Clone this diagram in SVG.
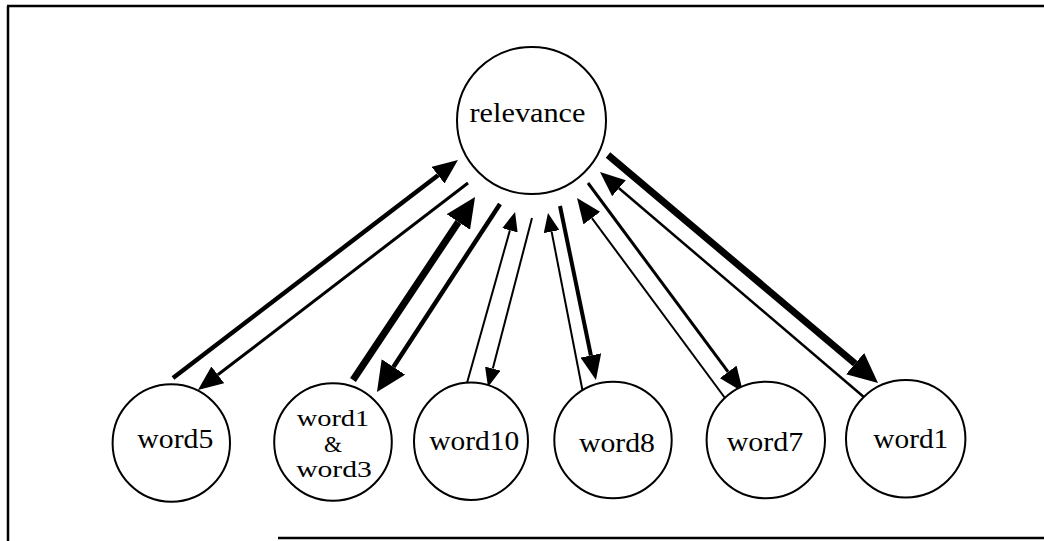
<svg xmlns="http://www.w3.org/2000/svg" width="1044" height="541" viewBox="0 0 1044 541">
  <style>
    .node { fill: #fff; stroke: #000; stroke-width: 2; }
    .label { font-family: "Liberation Serif", "Times New Roman", serif; font-size: 27px; fill: #000; text-anchor: middle; }
    .stack { font-size: 23px; }
    .edge { stroke: #000; fill: none; stroke-linecap: butt; }
    .frame { stroke: #000; stroke-width: 2.5; fill: none; }
  </style>
  <defs>
    <marker id="head-big" markerUnits="userSpaceOnUse" markerWidth="30" markerHeight="28" refX="0" refY="14" orient="auto">
      <path d="M0,0 L30,14 L0,28 Z" fill="#000"/>
    </marker>
    <marker id="head-mid" markerUnits="userSpaceOnUse" markerWidth="25" markerHeight="21" refX="0" refY="10.5" orient="auto">
      <path d="M0,0 L25,10.5 L0,21 Z" fill="#000"/>
    </marker>
    <marker id="head-small" markerUnits="userSpaceOnUse" markerWidth="19" markerHeight="16" refX="0" refY="8" orient="auto">
      <path d="M0,0 L19,8 L0,16 Z" fill="#000"/>
    </marker>
  </defs>

  <rect width="1044" height="541" fill="#fff"/>

  <!-- page frame (open on the right) -->
  <g id="frame">
    <line class="frame" x1="7" y1="6" x2="1044" y2="6"/>
    <line class="frame" x1="8" y1="6" x2="8" y2="541"/>
    <line class="frame" x1="278" y1="538" x2="1044" y2="538"/>
  </g>

  <!-- influence links between the relevance node and each word node -->
  <g id="connectors">
    <line class="edge" stroke-width="4.5" x1="173" y1="378" x2="438.1" y2="175.2" marker-end="url(#head-mid)"/>
    <line class="edge" stroke-width="3" x1="468" y1="183" x2="217.8" y2="374.8" marker-end="url(#head-mid)"/>
    <line class="edge" stroke-width="7" x1="353" y1="380" x2="458.4" y2="222" marker-end="url(#head-big)"/>
    <line class="edge" stroke-width="4.5" x1="500" y1="204" x2="393.4" y2="366.9" marker-end="url(#head-big)"/>
    <line class="edge" stroke-width="2" x1="467" y1="383" x2="509.9" y2="230.3" marker-end="url(#head-small)"/>
    <line class="edge" stroke-width="2" x1="532" y1="218" x2="492.8" y2="368.6" marker-end="url(#head-small)"/>
    <line class="edge" stroke-width="2" x1="583" y1="393" x2="551.6" y2="231.6" marker-end="url(#head-small)"/>
    <line class="edge" stroke-width="4" x1="560" y1="206" x2="590.9" y2="355.5" marker-end="url(#head-mid)"/>
    <line class="edge" stroke-width="2" x1="725" y1="398" x2="591.9" y2="218.1" marker-end="url(#head-mid)"/>
    <line class="edge" stroke-width="3" x1="588" y1="183" x2="728.1" y2="371.9" marker-end="url(#head-mid)"/>
    <line class="edge" stroke-width="2.5" x1="865" y1="398" x2="619" y2="188.2" marker-end="url(#head-mid)"/>
    <line class="edge" stroke-width="7" x1="608" y1="155" x2="855.1" y2="363.6" marker-end="url(#head-big)"/>
  </g>

  <g id="relevance">
    <ellipse class="node" cx="531.5" cy="120.5" rx="74.5" ry="73.5"/>
    <text class="label" x="527.5" y="122" textLength="116" lengthAdjust="spacingAndGlyphs">relevance</text>
  </g>

  <g id="word5">
    <ellipse class="node" cx="171.3" cy="443" rx="58.7" ry="58.8"/>
    <text class="label" x="175.3" y="448" textLength="76" lengthAdjust="spacingAndGlyphs">word5</text>
  </g>

  <g id="word1-word3">
    <ellipse class="node" cx="333" cy="442" rx="58.8" ry="58.7"/>
    <text class="label stack" x="333" y="426" textLength="72.6" lengthAdjust="spacingAndGlyphs">word1</text>
    <text class="label stack" x="333" y="452">&amp;</text>
    <text class="label stack" x="334" y="477" textLength="75.7" lengthAdjust="spacingAndGlyphs">word3</text>
  </g>

  <g id="word10">
    <ellipse class="node" cx="471" cy="441.3" rx="57" ry="58.7"/>
    <text class="label" x="474.3" y="450" textLength="90" lengthAdjust="spacingAndGlyphs">word10</text>
  </g>

  <g id="word8">
    <ellipse class="node" cx="613" cy="440" rx="58.7" ry="58.3"/>
    <text class="label" x="617" y="452" textLength="76" lengthAdjust="spacingAndGlyphs">word8</text>
  </g>

  <g id="word7">
    <ellipse class="node" cx="765.8" cy="440" rx="59.2" ry="58.3"/>
    <text class="label" x="765" y="451" textLength="76.6" lengthAdjust="spacingAndGlyphs">word7</text>
  </g>

  <g id="word1">
    <ellipse class="node" cx="905.7" cy="438.7" rx="59.7" ry="58.7"/>
    <text class="label" x="910.8" y="448" textLength="75" lengthAdjust="spacingAndGlyphs">word1</text>
  </g>
</svg>
